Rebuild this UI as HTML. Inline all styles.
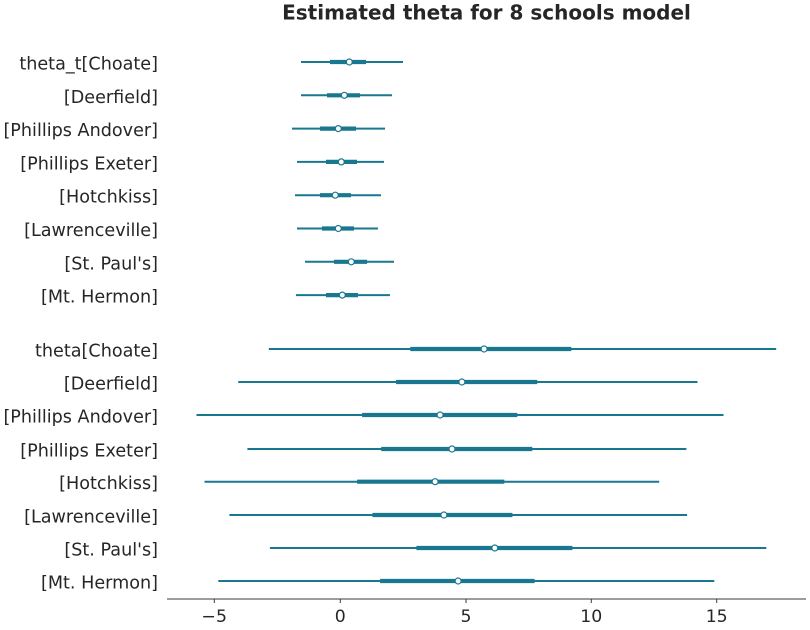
<!DOCTYPE html>
<html>
<head>
<meta charset="utf-8">
<style>
  html, body { margin:0; padding:0; background:#ffffff; }
  svg { display:block; }
  text { font-family: "DejaVu Sans", "Liberation Sans", sans-serif; fill:#262626; }
</style>
</head>
<body>
<svg width="810" height="630" viewBox="0 0 810 630" xmlns="http://www.w3.org/2000/svg">
  <rect x="0" y="0" width="810" height="630" fill="#ffffff"/>
  <!-- Title -->
  <text x="486.5" y="19.5" text-anchor="middle" font-size="20.0" font-weight="bold">Estimated theta for 8 schools model</text>

  <!-- Labels -->
  <g font-size="17.6" text-anchor="end">
    <text x="158" y="69.5">theta_t[Choate]</text>
    <text x="158" y="102.8">[Deerfield]</text>
    <text x="158" y="136.1">[Phillips Andover]</text>
    <text x="158" y="169.4">[Phillips Exeter]</text>
    <text x="158" y="202.7">[Hotchkiss]</text>
    <text x="158" y="236">[Lawrenceville]</text>
    <text x="158" y="269.3">[St. Paul's]</text>
    <text x="158" y="302.6">[Mt. Hermon]</text>

    <text x="158" y="356.5">theta[Choate]</text>
    <text x="158" y="389.5">[Deerfield]</text>
    <text x="158" y="422.5">[Phillips Andover]</text>
    <text x="158" y="456.5">[Phillips Exeter]</text>
    <text x="158" y="489.2">[Hotchkiss]</text>
    <text x="158" y="522.5">[Lawrenceville]</text>
    <text x="158" y="555.5">[St. Paul's]</text>
    <text x="158" y="588.5">[Mt. Hermon]</text>
  </g>

  <!-- Series -->
  <g stroke="#19778f" fill="none">
    <g stroke-width="2">
      <line x1="301" y1="62" x2="403" y2="62"/>
      <line x1="301" y1="95.3" x2="392" y2="95.3"/>
      <line x1="292" y1="128.6" x2="385" y2="128.6"/>
      <line x1="297" y1="161.9" x2="384" y2="161.9"/>
      <line x1="295" y1="195.2" x2="381" y2="195.2"/>
      <line x1="297" y1="228.5" x2="378" y2="228.5"/>
      <line x1="305" y1="261.8" x2="394" y2="261.8"/>
      <line x1="296" y1="295.1" x2="390" y2="295.1"/>

      <line x1="268.8" y1="349" x2="776.2" y2="349"/>
      <line x1="238.2" y1="382" x2="697.5" y2="382"/>
      <line x1="196.5" y1="415" x2="723.5" y2="415"/>
      <line x1="247.4" y1="449" x2="686.4" y2="449"/>
      <line x1="204.5" y1="481.7" x2="659.2" y2="481.7"/>
      <line x1="229.4" y1="515" x2="687.1" y2="515"/>
      <line x1="269.9" y1="548" x2="766.3" y2="548"/>
      <line x1="218.3" y1="581" x2="714.3" y2="581"/>
    </g>
    <g stroke-width="4.2">
      <line x1="330" y1="62" x2="366" y2="62"/>
      <line x1="327" y1="95.3" x2="360" y2="95.3"/>
      <line x1="320" y1="128.6" x2="356" y2="128.6"/>
      <line x1="326" y1="161.9" x2="357" y2="161.9"/>
      <line x1="320" y1="195.2" x2="351" y2="195.2"/>
      <line x1="322" y1="228.5" x2="354" y2="228.5"/>
      <line x1="334" y1="261.8" x2="367" y2="261.8"/>
      <line x1="326" y1="295.1" x2="358" y2="295.1"/>

      <line x1="410.3" y1="349" x2="571.3" y2="349"/>
      <line x1="396.1" y1="382" x2="537.2" y2="382"/>
      <line x1="362.1" y1="415" x2="517.3" y2="415"/>
      <line x1="381.2" y1="449" x2="532.3" y2="449"/>
      <line x1="357.1" y1="481.7" x2="504.3" y2="481.7"/>
      <line x1="372.4" y1="515" x2="512.4" y2="515"/>
      <line x1="416.4" y1="548" x2="572.4" y2="548"/>
      <line x1="380.1" y1="581" x2="534.6" y2="581"/>
    </g>
    <g fill="#ffffff" stroke-width="1.2">
      <circle cx="349.3" cy="62" r="3"/>
      <circle cx="344.3" cy="95.3" r="3"/>
      <circle cx="338.3" cy="128.6" r="3"/>
      <circle cx="341.3" cy="161.9" r="3"/>
      <circle cx="335.3" cy="195.2" r="3"/>
      <circle cx="338.3" cy="228.5" r="3"/>
      <circle cx="351.3" cy="261.8" r="3"/>
      <circle cx="342.3" cy="295.1" r="3"/>

      <circle cx="484.1" cy="349" r="3"/>
      <circle cx="461.9" cy="382" r="3"/>
      <circle cx="440.1" cy="415" r="3"/>
      <circle cx="452" cy="449" r="3"/>
      <circle cx="435.1" cy="481.7" r="3"/>
      <circle cx="443.9" cy="515" r="3"/>
      <circle cx="494.8" cy="548" r="3"/>
      <circle cx="458.1" cy="581" r="3"/>
    </g>
  </g>

  <!-- X axis -->
  <line x1="167" y1="599" x2="806" y2="599" stroke="#3a3a3a" stroke-width="1.1"/>
  <g stroke="#3a3a3a" stroke-width="1">
    <line x1="214.3" y1="599" x2="214.3" y2="603"/>
    <line x1="340.3" y1="599" x2="340.3" y2="603"/>
    <line x1="466" y1="599" x2="466" y2="603"/>
    <line x1="591.3" y1="599" x2="591.3" y2="603"/>
    <line x1="716.7" y1="599" x2="716.7" y2="603"/>
  </g>
  <g font-size="17.3" text-anchor="middle">
    <text x="214.3" y="621.8">−5</text>
    <text x="340.3" y="621.8">0</text>
    <text x="466" y="621.8">5</text>
    <text x="591.3" y="621.8">10</text>
    <text x="716.7" y="621.8">15</text>
  </g>
</svg>
</body>
</html>
